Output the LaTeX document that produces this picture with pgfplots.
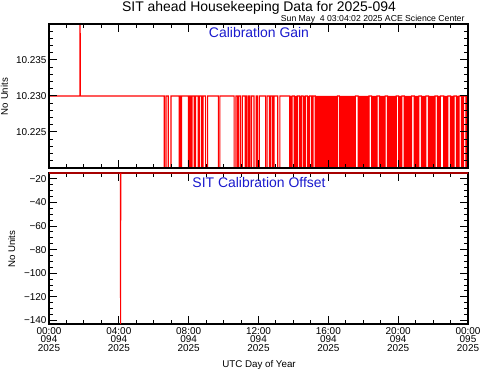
\documentclass[border=0pt]{standalone}
\usepackage{pgfplots}
\pgfplotsset{compat=1.18}
\usepackage{fontspec}
\setmainfont{Liberation Sans}
\definecolor{lblue}{RGB}{25,25,205}
\pgfplotsset{
  panel/.style={
    scale only axis, width=419bp,
    xmin=0, xmax=24,
    xtick={0,4,8,12,16,20,24}, minor x tick num=3,
    tick align=inside, tick pos=both, ticklabel pos=left,
    major tick length=8bp, minor tick length=4bp,
    axis line style={line width=1.3bp},
    every tick/.style={black, line width=1bp},
    tick label style={font=\fontsize{10}{8.7}\selectfont},
    yticklabel style={inner sep=0pt, xshift=-2.3bp},
    xticklabel style={inner sep=0pt, yshift=-3bp, align=center},
  }
}
\begin{document}
\begin{tikzpicture}
\useasboundingbox (-49bp,-47bp) rectangle (432bp,324bp);
% ---------- Top panel: Calibration Gain ----------
\begin{axis}[panel, at={(0bp,156bp)}, anchor=south west, height=144bp,
  ymin=10.220, ymax=10.240,
  ytick={10.220,10.225,10.230,10.235,10.240},
  yticklabels={,10.225,10.230,10.235,},
  minor y tick num=4, xticklabels={}, axis on top]
% line series (gain value vs hour)
\addplot[red, line width=1.1bp] coordinates {
(0,10.230) (1.77,10.230) (1.78,10.260) (1.79,10.230)
(6.60,10.230)(6.60,10.21)(6.70,10.21)(6.70,10.230)
(6.83,10.230)(6.83,10.21)(6.99,10.21)(6.99,10.230)
(7.45,10.230)(7.45,10.21)(7.50,10.21)(7.50,10.230)
(7.55,10.230)(7.55,10.21)(7.60,10.21)(7.60,10.230)
(7.98,10.230)(7.98,10.21)(8.06,10.21)(8.06,10.230)
(8.12,10.230)(8.12,10.21)(8.20,10.21)(8.20,10.230)
(8.32,10.230)(8.32,10.21)(8.40,10.21)(8.40,10.230)
(8.55,10.230)(8.55,10.21)(8.62,10.21)(8.62,10.230)
(8.75,10.230)(8.75,10.21)(8.82,10.21)(8.82,10.230)
(8.97,10.230)(8.97,10.21)(9.09,10.21)(9.09,10.230)
(9.70,10.230)(9.70,10.21)(9.79,10.21)(9.79,10.230)
(10.60,10.230)(10.60,10.21)(10.70,10.21)(10.70,10.230)
(10.79,10.230)(10.79,10.21)(10.87,10.21)(10.87,10.230)
(10.98,10.230)(10.98,10.21)(11.08,10.21)(11.08,10.230)
(11.23,10.230)(11.23,10.21)(11.30,10.21)(11.30,10.230)
(11.34,10.230)(11.34,10.21)(11.44,10.21)(11.44,10.230)
(11.50,10.230)(11.50,10.21)(11.60,10.21)(11.60,10.230)
(11.74,10.230)(11.74,10.21)(11.86,10.21)(11.86,10.230)
(11.93,10.230)(11.93,10.21)(12.04,10.21)(12.04,10.230)
(12.41,10.230)(12.41,10.21)(12.49,10.21)(12.49,10.230)
(12.62,10.230)(12.62,10.21)(12.70,10.21)(12.70,10.230)
(12.81,10.230)(12.81,10.21)(12.89,10.21)(12.89,10.230)
(13.10,10.230)(13.10,10.21)(13.22,10.21)(13.22,10.230)
(13.79,10.230)(13.79,10.21)(13.93,10.21)(13.93,10.230)
(14.05,10.230)(14.05,10.21)(14.22,10.21)(14.22,10.230)
(14.34,10.230)(14.34,10.21)(14.45,10.21)(14.45,10.230)
(14.56,10.230)(14.56,10.21)(14.68,10.21)(14.68,10.230)
(14.80,10.230)(14.80,10.21)(14.93,10.21)(14.93,10.230)
(15.05,10.230)(15.05,10.21)(15.12,10.21)(15.12,10.230)
(15.25,10.230)(15.25,10.21)(16.52,10.21)(16.52,10.230)
(16.63,10.230)(16.63,10.21)(17.55,10.21)(17.55,10.230)
(17.71,10.230)(17.71,10.21)(18.33,10.21)(18.33,10.230)
(18.48,10.230)(18.48,10.21)(18.79,10.21)(18.79,10.230)
(18.93,10.230)(18.93,10.21)(19.25,10.21)(19.25,10.230)
(19.39,10.230)(19.39,10.21)(19.89,10.21)(19.89,10.230)
(20.03,10.230)(20.03,10.21)(20.21,10.21)(20.21,10.230)
(20.35,10.230)(20.35,10.21)(20.77,10.21)(20.77,10.230)
(20.92,10.230)(20.92,10.21)(21.19,10.21)(21.19,10.230)
(21.33,10.230)(21.33,10.21)(21.59,10.21)(21.59,10.230)
(21.74,10.230)(21.74,10.21)(22.11,10.21)(22.11,10.230)
(22.25,10.230)(22.25,10.21)(22.42,10.21)(22.42,10.230)
(22.61,10.230)(22.61,10.21)(22.85,10.21)(22.85,10.230)
(23.00,10.230)(23.00,10.21)(23.20,10.21)(23.20,10.230)
(23.34,10.230)(23.34,10.21)(23.49,10.21)(23.49,10.230)
(23.62,10.230)(23.62,10.21)(23.75,10.21)(23.75,10.230)
(23.88,10.230)(23.88,10.21)(24.00,10.21)(24.00,10.230)
};
% densely toggling stretches (value switching every sample) shown as solid areas
\addplot[draw=none, fill=red, unbounded coords=jump] coordinates {
(13.79,10.230)(13.93,10.230)(13.93,10.21)(13.79,10.21)(13.79,nan)
(14.05,10.230)(14.22,10.230)(14.22,10.21)(14.05,10.21)(14.05,nan)
(14.34,10.230)(14.45,10.230)(14.45,10.21)(14.34,10.21)(14.34,nan)
(14.56,10.230)(14.68,10.230)(14.68,10.21)(14.56,10.21)(14.56,nan)
(14.80,10.230)(14.93,10.230)(14.93,10.21)(14.80,10.21)(14.80,nan)
(15.05,10.230)(15.12,10.230)(15.12,10.21)(15.05,10.21)(15.05,nan)
(15.25,10.230)(16.52,10.230)(16.52,10.21)(15.25,10.21)(15.25,nan)
(16.63,10.230)(17.55,10.230)(17.55,10.21)(16.63,10.21)(16.63,nan)
(17.71,10.230)(18.33,10.230)(18.33,10.21)(17.71,10.21)(17.71,nan)
(18.48,10.230)(18.79,10.230)(18.79,10.21)(18.48,10.21)(18.48,nan)
(18.93,10.230)(19.25,10.230)(19.25,10.21)(18.93,10.21)(18.93,nan)
(19.39,10.230)(19.89,10.230)(19.89,10.21)(19.39,10.21)(19.39,nan)
(20.03,10.230)(20.21,10.230)(20.21,10.21)(20.03,10.21)(20.03,nan)
(20.35,10.230)(20.77,10.230)(20.77,10.21)(20.35,10.21)(20.35,nan)
(20.92,10.230)(21.19,10.230)(21.19,10.21)(20.92,10.21)(20.92,nan)
(21.33,10.230)(21.59,10.230)(21.59,10.21)(21.33,10.21)(21.33,nan)
(21.74,10.230)(22.11,10.230)(22.11,10.21)(21.74,10.21)(21.74,nan)
(22.25,10.230)(22.42,10.230)(22.42,10.21)(22.25,10.21)(22.25,nan)
(22.61,10.230)(22.85,10.230)(22.85,10.21)(22.61,10.21)(22.61,nan)
(23.00,10.230)(23.20,10.230)(23.20,10.21)(23.00,10.21)(23.00,nan)
(23.34,10.230)(23.49,10.230)(23.49,10.21)(23.34,10.21)(23.34,nan)
(23.62,10.230)(23.75,10.230)(23.75,10.21)(23.62,10.21)(23.62,nan)
(23.88,10.230)(24.00,10.230)(24.00,10.21)(23.88,10.21)
};
\end{axis}
% ---------- Bottom panel: Calibration Offset ----------
\begin{axis}[panel, at={(0bp,0bp)}, anchor=south west, height=151bp,
  ymin=-143, ymax=-15,
  ytick={-140,-120,-100,-80,-60,-40,-20},
  yticklabels={−140,−120,−100,−80,−60,−40,−20},
  minor y tick num=3,
  xticklabels={{00:00\\094\\2025},{04:00\\094\\2025},{08:00\\094\\2025},{12:00\\094\\2025},{16:00\\094\\2025},{20:00\\094\\2025},{00:00\\095\\2025}},
  clip=false]
\addplot[red, line width=1.1bp] coordinates {
(0,-15) (4.09,-15) (4.10,-143) (4.11,-15) (24,-15)
};
\end{axis}
% ---------- Texts ----------
\node[anchor=base, font=\fontsize{14}{14}\selectfont] at (210bp,312bp) {SIT ahead Housekeeping Data for 2025-094};
\node[anchor=base east, font=\fontsize{8.7}{9}\selectfont] at (419bp,302bp) {Sun May\ \ 4 03:04:02 2025 ACE Science Center};
\node[anchor=base, text=lblue, font=\fontsize{14}{14}\selectfont] at (210bp,286bp) {Calibration Gain};
\node[anchor=base, text=lblue, font=\fontsize{14}{14}\selectfont] at (210bp,136bp) {SIT Calibration Offset};
\node[rotate=90, font=\fontsize{9.7}{10}\selectfont] at (-44.5bp,227.5bp) {No Units};
\node[rotate=90, font=\fontsize{9.7}{10}\selectfont] at (-37.3bp,75bp) {No Units};
\node[anchor=base, font=\fontsize{9.8}{10}\selectfont] at (210bp,-43bp) {UTC Day of Year};
\end{tikzpicture}
\end{document}
